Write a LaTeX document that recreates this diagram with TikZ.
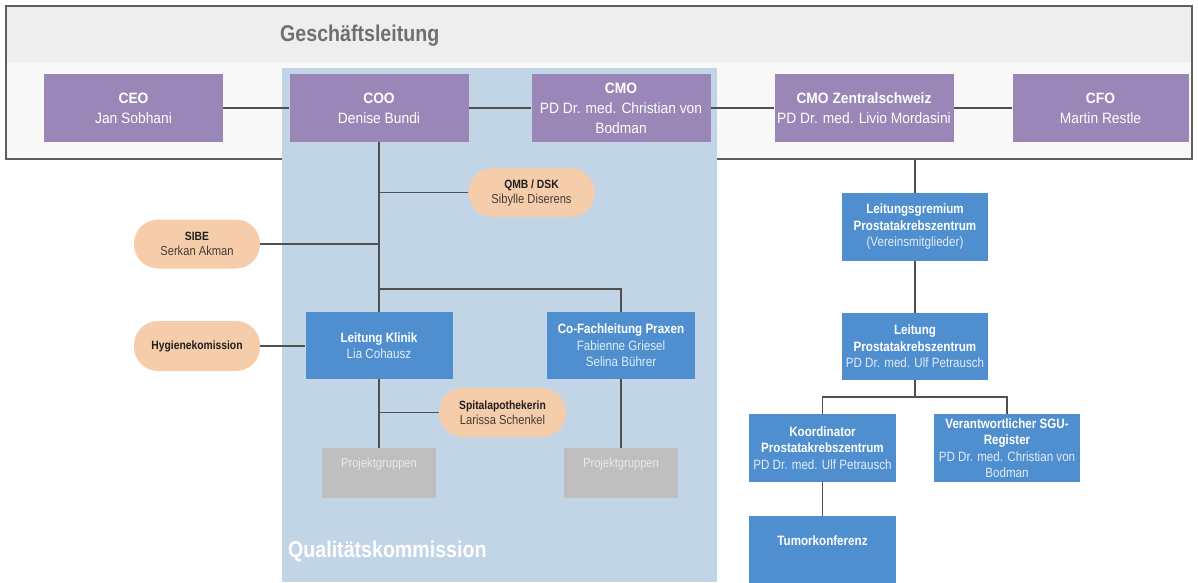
\documentclass[tikz,border=0pt]{standalone}
\usepackage{fontspec}
\setmainfont{Liberation Sans}[FakeStretch=0.86]
\newfontfamily\widerfont{Liberation Sans}[FakeStretch=0.92]
\usetikzlibrary{calc}
\definecolor{purp}{RGB}{154,135,184}
\definecolor{boxblue}{RGB}{80,143,207}
\definecolor{panel}{RGB}{194,213,230}
\definecolor{peach}{RGB}{246,205,171}
\definecolor{projgray}{RGB}{191,191,191}
\definecolor{projtext}{RGB}{234,234,234}
\definecolor{linegray}{RGB}{80,80,80}
\definecolor{bandgray}{RGB}{238,238,238}
\definecolor{framefill}{RGB}{248,248,248}
\definecolor{framedraw}{RGB}{95,95,95}
\definecolor{titlegray}{RGB}{112,112,112}
\definecolor{namelight}{RGB}{226,236,248}
\definecolor{pilltitle}{RGB}{30,30,30}
\definecolor{pillname}{RGB}{70,60,55}
\newcommand\pilltit[1]{{\bfseries\color{pilltitle}\fontsize{12}{15}\selectfont #1}}
\newcommand\lightname[1]{{\color{namelight}#1}}
\begin{document}
\begin{tikzpicture}[x=1pt,y=-1pt,
  purplebox/.style={fill=purp,text=white,minimum width=179pt,minimum height=68pt,inner sep=1pt,align=center,font=\widerfont\fontsize{15}{20}\selectfont},
  bluebox/.style={fill=boxblue,text=white,minimum width=147pt,minimum height=68pt,inner sep=1pt,align=center,font=\fontsize{13.5}{16.5}\selectfont},
  pill/.style={fill=peach,rounded corners=24pt,minimum width=126pt,minimum height=49pt,inner sep=1pt,align=center,text=pillname,font=\fontsize{13}{15}\selectfont},
  projbox/.style={fill=projgray,minimum width=114pt,minimum height=50pt,inner sep=0pt},
  projlabel/.style={anchor=center,yshift=-16pt,text=projtext,font=\fontsize{13}{15}\selectfont},
  tumorlabel/.style={anchor=center,yshift=-25pt,text=white,font=\fontsize{13.5}{16.5}\selectfont},
  gframe/.style={draw=framedraw,line width=1.3pt,minimum width=1186pt,minimum height=153pt,inner sep=0pt},
  conn/.style={draw=linegray,line width=1.7pt},
  bigtitle/.style={font=\bfseries\fontsize{22.8}{26}\selectfont,inner sep=0pt}
]
\useasboundingbox (0,0) rectangle (1198,582);
% Geschaeftsleitung frame
\fill[framefill] (6,6) rectangle (1192,159);
\fill[bandgray] (6,6) rectangle (1192,62);
\node[gframe] (gl) at (599,82.5) {};
\node[bigtitle,text=titlegray,anchor=base west] (gltitle) at (280,41) {Geschäftsleitung};
% Qualitaetskommission panel
\fill[panel] (282,68) rectangle (717,582);
\node[bigtitle,text=white,anchor=base west] (qktitle) at (288,557) {Qualitätskommission};
% management boxes
\node[purplebox] (ceo) at (133.5,108) {\textbf{CEO}\\Jan Sobhani};
\node[purplebox] (coo) at (379,108) {\textbf{COO}\\Denise Bundi};
\node[purplebox] (cmo) at (621,108) {\textbf{CMO}\\PD Dr. med. Christian von\\Bodman};
\node[purplebox] (cmoz) at (864,108) {\textbf{CMO Zentralschweiz}\\PD Dr. med. Livio Mordasini};
\node[purplebox,minimum width=176pt] (cfo) at (1100.5,108) {\textbf{CFO}\\Martin Restle};
% pills
\node[pill] (qmb) at (531.5,192.5) {\pilltit{QMB / DSK}\\Sibylle Diserens};
\node[pill] (sibe) at (197,244) {\pilltit{SIBE}\\Serkan Akman};
\node[pill,minimum height=50pt] (hyg) at (197,346) {\pilltit{Hygienekomission}};
\node[pill,minimum width=127pt] (spital) at (502.5,412.5) {\pilltit{Spitalapothekerin}\\Larissa Schenkel};
% blue boxes
\node[bluebox,minimum height=67pt] (klinik) at (379,345.5) {\textbf{Leitung Klinik}\\\lightname{Lia Cohausz}};
\node[bluebox,minimum width=148pt,minimum height=67pt] (cofach) at (621,345.5) {\textbf{Co-Fachleitung Praxen}\\\lightname{Fabienne Griesel}\\\lightname{Selina Bührer}};
\node[bluebox,minimum width=146pt] (lg) at (915,227) {\textbf{Leitungsgremium}\\\textbf{Prostatakrebszentrum}\\\lightname{(Vereinsmitglieder)}};
\node[bluebox,minimum width=146pt,minimum height=67pt] (leit) at (915,346.5) {\textbf{Leitung}\\\textbf{Prostatakrebszentrum}\\\lightname{PD Dr. med. Ulf Petrausch}};
\node[bluebox] (koord) at (822.5,448) {\textbf{Koordinator}\\\textbf{Prostatakrebszentrum}\\\lightname{PD Dr. med. Ulf Petrausch}};
\node[bluebox,minimum width=146pt] (vera) at (1007,448) {\textbf{Verantwortlicher SGU-}\\\textbf{Register}\\\lightname{PD Dr. med. Christian von}\\\lightname{Bodman}};
\node[bluebox,anchor=north,minimum height=72pt,label={[tumorlabel]north:\textbf{Tumorkonferenz}}] (tumor) at (822.5,516) {};
% project groups
\node[projbox,label={[projlabel]north:Projektgruppen}] (proj1) at (379,473) {};
\node[projbox,label={[projlabel]north:Projektgruppen}] (proj2) at (621,473) {};
% connectors
\draw[conn] (ceo) -- (coo);
\draw[conn] (coo) -- (cmo);
\draw[conn] (cmo) -- (cmoz);
\draw[conn] (cmoz) -- (cfo);
\draw[conn] (coo.south) -- (klinik.north);
\draw[conn] (qmb.west) -- (qmb.west -| coo.south);
\draw[conn] (sibe.east) -- (sibe.east -| coo.south);
\coordinate (split) at (379,289);
\draw[conn] (split) -| (cofach.north);
\draw[conn] (hyg.east) -- (hyg.east -| klinik.west);
\draw[conn] (klinik.south) -- (proj1.north);
\draw[conn] (spital.west) -- (spital.west -| klinik.south);
\draw[conn] (cofach.south) -- (proj2.north);
\draw[conn] (gl.south -| lg.north) -- (lg.north);
\draw[conn] (lg.south) -- (leit.north);
\coordinate (split2) at (915,397);
\draw[conn] (leit.south) -- (split2);
\draw[conn] (split2) -| (koord.north);
\draw[conn] (split2) -| (vera.north);
\draw[conn] (koord.south) -- (tumor.north);
\end{tikzpicture}
\end{document}
